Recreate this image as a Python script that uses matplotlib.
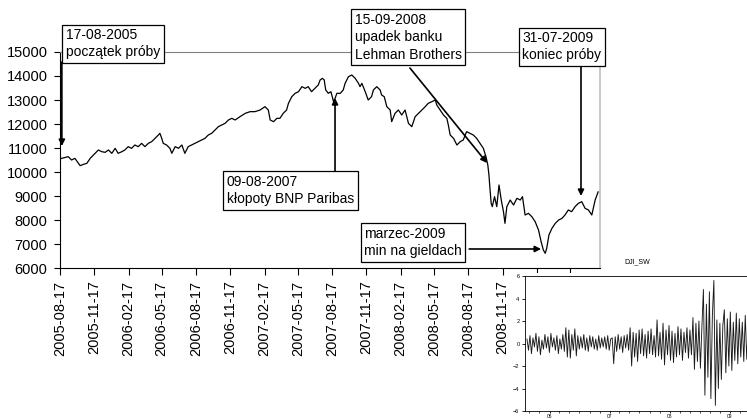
"""DJIA 2005-2009 with crisis annotations and a small inset of daily returns."""

import matplotlib
matplotlib.use("Agg")
import matplotlib.pyplot as plt
import matplotlib.dates as mdates
from matplotlib.patches import Rectangle
import pandas as pd

plt.rcParams["font.family"] = ["Liberation Sans", "DejaVu Sans"]

# DJIA closing level
djia_dates = [
    "2005-08-17", "2005-09-08", "2005-09-17", "2005-09-26", "2005-10-10", "2005-10-19",
    "2005-10-28", "2005-11-06", "2005-11-19", "2005-11-28", "2005-12-07", "2005-12-16",
    "2005-12-25", "2006-01-03", "2006-01-12", "2006-01-20", "2006-01-30", "2006-02-07",
    "2006-02-16", "2006-02-25", "2006-03-06", "2006-03-15", "2006-03-24", "2006-04-02",
    "2006-04-11", "2006-04-20", "2006-04-29", "2006-05-08", "2006-05-12", "2006-05-17",
    "2006-05-21", "2006-05-30", "2006-06-08", "2006-06-13", "2006-06-22", "2006-07-01",
    "2006-07-10", "2006-07-18", "2006-07-27", "2006-08-05", "2006-08-14", "2006-08-23",
    "2006-09-01", "2006-09-10", "2006-09-19", "2006-09-28", "2006-10-07", "2006-10-16",
    "2006-10-25", "2006-11-03", "2006-11-12", "2006-11-21", "2006-11-30", "2006-12-13",
    "2006-12-27", "2007-01-09", "2007-01-22", "2007-02-05", "2007-02-18", "2007-02-27",
    "2007-03-04", "2007-03-13", "2007-03-22", "2007-03-30", "2007-04-08", "2007-04-17",
    "2007-04-22", "2007-05-01", "2007-05-10", "2007-05-19", "2007-05-28", "2007-06-06",
    "2007-06-14", "2007-06-23", "2007-07-02", "2007-07-11", "2007-07-16", "2007-07-22",
    "2007-07-27", "2007-07-31", "2007-08-07", "2007-08-14", "2007-08-21", "2007-08-25",
    "2007-08-30", "2007-09-08", "2007-09-16", "2007-09-21", "2007-09-30", "2007-10-09",
    "2007-10-18", "2007-10-27", "2007-10-31", "2007-11-05", "2007-11-14", "2007-11-22",
    "2007-12-01", "2007-12-06", "2007-12-15", "2007-12-24", "2007-12-28", "2008-01-04",
    "2008-01-11", "2008-01-20", "2008-01-24", "2008-02-02", "2008-02-11", "2008-02-20",
    "2008-02-29", "2008-03-09", "2008-03-18", "2008-03-27", "2008-04-05", "2008-04-14",
    "2008-04-23", "2008-05-01", "2008-05-11", "2008-05-20", "2008-05-24", "2008-06-02",
    "2008-06-11", "2008-06-20", "2008-06-24", "2008-06-29", "2008-07-08", "2008-07-17",
    "2008-07-26", "2008-08-03", "2008-08-12", "2008-08-21", "2008-08-30", "2008-09-08",
    "2008-09-17", "2008-09-26", "2008-10-03", "2008-10-08", "2008-10-11", "2008-10-14",
    "2008-10-17", "2008-10-20", "2008-10-26", "2008-11-01", "2008-11-07", "2008-11-13",
    "2008-11-19", "2008-11-23", "2008-11-28", "2008-12-07", "2008-12-16", "2008-12-25",
    "2009-01-03", "2009-01-09", "2009-01-16", "2009-01-25", "2009-02-03", "2009-02-12",
    "2009-02-21", "2009-02-28", "2009-03-06", "2009-03-11", "2009-03-15", "2009-03-21",
    "2009-03-29", "2009-04-07", "2009-04-16", "2009-04-25", "2009-05-03", "2009-05-12",
    "2009-05-21", "2009-05-30", "2009-06-08", "2009-06-17", "2009-06-26", "2009-07-05",
    "2009-07-14", "2009-07-23", "2009-07-31",
]
djia_values = [
    10550, 10639, 10500, 10569, 10264, 10319, 10361, 10569, 10778, 10917, 10847, 10819,
    10917, 10778, 10986, 10778, 10847, 10917, 11056, 10986, 11125, 11056, 11194, 11056,
    11194, 11264, 11403, 11542, 11611, 11403, 11194, 11125, 10986, 10778, 11056, 10986,
    11125, 10778, 11056, 11125, 11194, 11264, 11333, 11403, 11542, 11611, 11750, 11889,
    11958, 12028, 12167, 12236, 12167, 12306, 12444, 12514, 12514, 12583, 12722, 12583,
    12167, 12097, 12236, 12236, 12444, 12583, 12861, 13139, 13278, 13347, 13556, 13486,
    13556, 13347, 13486, 13625, 13833, 13903, 13833, 13417, 13278, 13347, 12931, 13069,
    13278, 13278, 13417, 13694, 13972, 14042, 13903, 13694, 13556, 13694, 13347, 13000,
    13139, 13417, 13556, 13417, 13208, 13139, 12722, 12583, 12097, 12444, 12583, 12375,
    12583, 12028, 11889, 12306, 12444, 12583, 12722, 12861, 12931, 13000, 12792, 12583,
    12375, 12236, 11958, 11542, 11403, 11125, 11264, 11333, 11681, 11611, 11542, 11403,
    11194, 10986, 10639, 10292, 9875, 9250, 8694, 8556, 8972, 8556, 9458, 8833,
    8347, 7861, 8556, 8833, 8625, 8903, 8833, 8972, 8208, 8278, 8139, 7931,
    7583, 7097, 6750, 6611, 6819, 7375, 7653, 7861, 8000, 8069, 8208, 8417,
    8347, 8556, 8694, 8764, 8486, 8417, 8208, 8833, 9171,
]

tick_labels = [
    "2005-08-17", "2005-11-17", "2006-02-17", "2006-05-17", "2006-08-17", "2006-11-17",
    "2007-02-17", "2007-05-17", "2007-08-17", "2007-11-17", "2008-02-17", "2008-05-17",
    "2008-08-17", "2008-11-17", "2009-02-17", "2009-05-17",
]

# DJI_SW inset (daily changes), spikes
inset_values = [
    0.4, -0.6, 0.7, -0.9, 0.5, -0.3, 0.9, -0.7, 0.6, -1.0,
    0.3, -0.5, 0.8, -0.4, 0.6, -0.8, 0.9, -0.3, 0.5, -0.6,
    0.7, -0.9, 0.4, -0.5, 0.8, -0.7, 1.4, -1.2, 1.2, -1.3,
    0.8, -0.6, 1.3, -1.1, 0.7, -0.5, 0.6, -0.4, 0.8, -0.6,
    0.5, -0.7, 0.7, -0.3, 0.6, -0.5, 0.4, -0.6, 0.7, -0.4,
    0.5, -0.3, 0.6, -0.5, 0.7, -0.6, 0.4, 0.5, -1.8, 0.6,
    -0.7, 0.8, -0.5, 0.6, -0.8, 0.7, -0.4, 0.8, -0.6, 1.4,
    -2.0, 1.0, -1.2, 0.9, -1.6, 1.2, -0.9, 1.3, -1.1, 0.8,
    -1.3, 1.1, -0.9, 1.3, -1.0, 0.7, -1.2, 2.1, -1.1, 1.0,
    -1.4, 1.8, -1.9, 1.2, -1.0, 1.6, -1.5, 1.1, -1.7, 0.9,
    -1.2, 1.5, -1.0, 1.3, -1.5, 1.0, -0.8, 1.4, -1.3, 1.2,
    -1.0, 2.3, -2.3, 1.8, -1.6, 2.0, -2.2, 1.5, 4.8, -4.6,
    3.5, -3.0, 4.6, -4.9, 2.5, 5.6, -5.5, 2.1, -4.0, 1.8,
    -3.2, 1.6, 3.0, -2.6, 2.2, -2.0, 2.8, -2.4, 1.9, -1.5,
    2.7, -1.8, 2.2, -1.2, 1.9, -1.6, 2.5, -1.4, 1.7, -1.1,
    2.0, -1.5, 1.8, -1.3, 1.6, -1.2, 1.9, -1.6, 2.1, -1.0,
]


def d(s):
    return mdates.date2num(pd.Timestamp(s))


def main():
    W, H = 747, 419
    fig = plt.figure(figsize=(W / 100, H / 100), dpi=100)

    # main chart
    ax = fig.add_axes([60 / W, 1 - 268 / H, 540 / W, 216 / H])
    ax.set_zorder(0)
    ax.plot(pd.to_datetime(djia_dates), djia_values, color="black", lw=0.9)
    ax.set_xlim(d("2005-08-17"), d("2009-08-05"))
    ax.set_ylim(6000, 15000)
    ax.set_yticks(range(6000, 15001, 1000))
    ax.set_xticks([d(t) for t in tick_labels])
    ax.set_xticklabels(tick_labels, rotation=90)
    ax.tick_params(axis="y", direction="out", length=4, labelsize=10.5, pad=5)
    ax.tick_params(axis="x", direction="out", length=5, labelsize=10.5, pad=4)
    ax.spines["top"].set_color("#808080")
    ax.spines["top"].set_linewidth(0.8)
    ax.spines["right"].set_color("#c0c0c0")
    ax.spines["right"].set_linewidth(1.2)

    box = dict(boxstyle="square,pad=0.25", facecolor="white", edgecolor="black", lw=0.9)
    notes = [
        ("17-08-2005\npoczątek próby", 0.011, 1.111),
        ("15-09-2008\nupadek banku\nLehman Brothers", 0.546, 1.181),
        ("09-08-2007\nkłopoty BNP Paribas", 0.309, 0.431),
        ("31-07-2009\nkoniec próby", 0.856, 1.097),
        ("marzec-2009\nmin na gieldach", 0.563, 0.190),
    ]
    for text, fx, fy in notes:
        ax.text(fx, fy, text, transform=ax.transAxes, ha="left", va="top",
                fontsize=10, linespacing=1.3, bbox=box, zorder=5, clip_on=False)

    arrows = [
        (("2005-08-22", 14583), ("2005-08-22", 11083)),
        (("2008-03-13", 14333), ("2008-10-06", 10375)),
        (("2007-08-25", 10000), ("2007-08-25", 13083)),
        (("2009-06-15", 14375), ("2009-06-15", 9000)),
        (("2008-08-19", 6792), ("2009-02-28", 6792)),
    ]
    for (t0, v0), (t1, v1) in arrows:
        ax.annotate("", xy=(d(t1), v1), xytext=(d(t0), v0),
                    arrowprops=dict(arrowstyle="-|>", color="black", lw=1.2,
                                    shrinkA=0, shrinkB=0, mutation_scale=9),
                    zorder=4, annotation_clip=False)

    # white backing for the inset, it hides the last tick labels
    fig.add_artist(Rectangle((513 / W, 0), (W - 513) / W, (H - 273) / H,
                             transform=fig.transFigure, facecolor="white",
                             edgecolor="none", zorder=1))

    ins = fig.add_axes([525 / W, 1 - 411 / H, 243 / W, 135 / H])
    ins.set_zorder(2)
    ins_dates = pd.date_range("2005-08-17", "2009-07-31", periods=len(inset_values))
    ins.plot(ins_dates, inset_values, color="#1a1a1a", lw=0.65)
    ins.set_xlim(d("2005-08-05"), d("2009-08-20"))
    ins.set_ylim(-6, 6)
    ins.set_yticks(range(-6, 7, 2))
    ins.xaxis.set_major_locator(mdates.YearLocator())
    ins.xaxis.set_major_formatter(mdates.DateFormatter("%y"))
    ins.xaxis.set_minor_locator(mdates.MonthLocator(bymonth=[3, 5, 7, 9, 11]))
    ins.tick_params(axis="y", which="major", direction="out", length=2.5,
                    width=0.6, labelsize=4, pad=1.5)
    ins.tick_params(axis="x", which="major", direction="out", length=1.5,
                    width=0.6, labelsize=3.5, pad=0.5)
    ins.tick_params(axis="x", which="minor", direction="out", length=1.2, width=0.5)
    for sp in ins.spines.values():
        sp.set_linewidth(0.6)
    fig.text(637 / W, 1 - 262 / H, "DJI_SW", ha="center", va="center",
             fontsize=5, zorder=3)

    fig.savefig("out.png", dpi=100)


if __name__ == "__main__":
    main()
